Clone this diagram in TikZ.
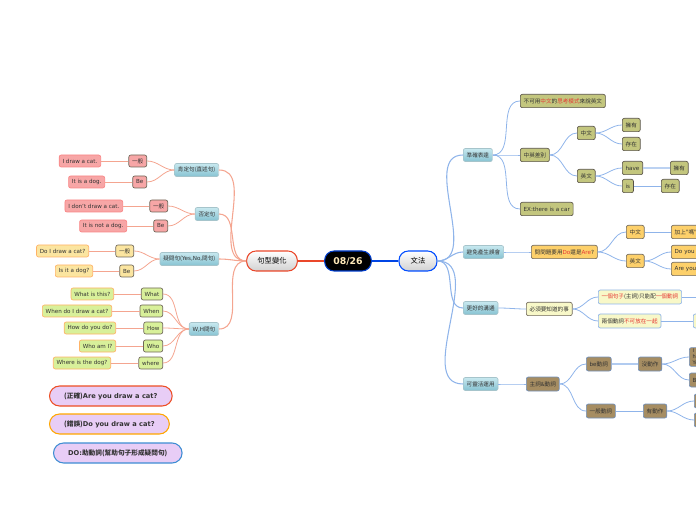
\documentclass[tikz,border=0pt]{standalone}
\usepackage{fontspec}
\setmainfont{DejaVu Sans}
\newfontfamily\cjk{Noto Sans CJK TC}
\newcommand{\zh}[1]{{\cjk #1}}
\newcommand{\hl}[1]{\textcolor{hlred}{#1}}

\definecolor{hlred}{HTML}{E53935}
\definecolor{lline}{HTML}{F4A590}
\definecolor{rline}{HTML}{8FB4EA}
\definecolor{tealtop}{HTML}{C8E8EF}
\definecolor{tealbot}{HTML}{86C3D2}
\definecolor{pinkfill}{HTML}{F7A6A6}
\definecolor{yelfill}{HTML}{FBE5A0}
\definecolor{grnfill}{HTML}{D8F09A}
\definecolor{olivefill}{HTML}{C3C67E}
\definecolor{orangefill}{HTML}{FDD06A}
\definecolor{creamfill}{HTML}{F8F8C8}
\definecolor{brownfill}{HTML}{A68D62}
\definecolor{notefill}{HTML}{E8CDF6}
\definecolor{darkedge}{HTML}{6E6658}

\tikzset{
  box/.style={rounded corners=1.5pt, inner xsep=2.5pt, inner ysep=0pt,
    minimum height=9pt, line width=0.5pt, text=black!80,
    font=\fontsize{4.2}{5}\selectfont},
  topic/.style={box, top color=tealtop, bottom color=tealbot, draw=tealbot!80!black!60,
    minimum height=9.75pt},
  pinkkey/.style={box, fill=pinkfill, draw=darkedge},
  pinksent/.style={box, fill=pinkfill, draw=pinkfill!80!red},
  yelkey/.style={box, fill=yelfill, draw=darkedge},
  yelsent/.style={box, fill=yelfill, draw=orange!60},
  grnkey/.style={box, fill=grnfill, draw=darkedge},
  grnsent/.style={box, fill=grnfill, draw=orange!60},
  olive/.style={box, fill=olivefill, draw=darkedge!80!black, minimum height=10pt},
  orangebox/.style={box, fill=orangefill, draw=darkedge, minimum height=10pt},
  cream/.style={box, fill=creamfill, draw=darkedge, minimum height=10pt},
  creamblue/.style={box, fill=creamfill, draw=rline, minimum height=10.5pt},
  brown/.style={box, fill=brownfill, draw=rline!80!black, minimum height=10.5pt},
  mainbox/.style={rounded corners=7pt, minimum height=15pt, line width=0.8pt,
    top color=white, bottom color=black!18, font=\cjk\fontsize{5.5}{6}\selectfont},
  note/.style={rounded corners=7.5pt, minimum height=15pt, fill=notefill, line width=0.8pt,
    inner xsep=11pt, text=black!80, font=\bfseries\fontsize{5}{6}\selectfont},
  ll/.style={draw=lline, line width=0.6pt},
  rl/.style={draw=rline, line width=0.6pt},
}

\begin{document}
\begin{tikzpicture}[x=0.75pt, y=-0.75pt]
  \useasboundingbox (0,0) rectangle (696,520);

  % Centro
  \node[rounded corners=7pt, minimum width=35pt, minimum height=15pt, fill=black,
    draw=blue!70!cyan!80!black, line width=0.8pt, text=yellow!40!orange!25,
    font=\bfseries\fontsize{7}{8}\selectfont] (root) at (348,261) {08/26};
  \node[mainbox, draw=hlred!80!orange, minimum width=38pt] (forms) at (272,261) {句型變化};
  \node[mainbox, draw=blue!70!cyan, minimum width=28.5pt] (gram) at (418,261) {文法};
  \draw[draw=hlred!80!orange, line width=1.2pt] (root) -- (forms);
  \draw[draw=blue!70!cyan!90!black, line width=1.2pt] (root) -- (gram);

  % Lado izquierdo: temas
  \node[topic, anchor=east] (pos) at (219,170) {\zh{肯定句(直述句)}};
  \node[topic, anchor=east] (neg) at (219,214) {\zh{否定句}};
  \node[topic, anchor=east] (ques) at (219,259) {\zh{疑問句(}Yes,No,\zh{問句)}};
  \node[topic, anchor=east] (wh) at (219,329) {W,H\zh{問句}};
  \foreach \t in {pos,neg,ques,wh}
    \draw[ll, line width=0.8pt] (forms.west) to[out=180,in=0] (\t.east);

  % Afirmativas
  \node[pinkkey, anchor=east] (pos1) at (147,161) {\zh{一般}};
  \node[pinkkey, anchor=east] (pos2) at (147,182) {Be};
  \node[pinksent, anchor=east] (posa) at (101,161) {I draw a cat.};
  \node[pinksent, anchor=east] (posb) at (105,182) {It is a dog.};

  % Negativas
  \node[pinkkey, anchor=east] (neg1) at (168,206) {\zh{一般}};
  \node[pinkkey, anchor=east] (neg2) at (168,226) {Be};
  \node[pinksent, anchor=east] (nega) at (123,206) {I don't draw a cat.};
  \node[pinksent, anchor=east] (negb) at (127,226) {It is not a dog.};

  % Preguntas
  \node[yelkey, anchor=east] (ques1) at (134,251) {\zh{一般}};
  \node[yelkey, anchor=east] (ques2) at (134,271) {Be};
  \node[yelsent, anchor=east] (quesa) at (89,251) {Do I draw a cat?};
  \node[yelsent, anchor=east] (quesb) at (93,271) {Is it a dog?};

  \foreach \t in {pos,neg,ques}{
    \draw[ll] (\t.west) to[out=180,in=0] (\t1.east);
    \draw[ll] (\t.west) to[out=180,in=0] (\t2.east);
    \draw[ll] (\t1.west) -- (\t a.east);
    \draw[ll] (\t2.west) -- (\t b.east);
  }

  % W,H
  \foreach \n/\k/\s/\y/\e in {1/What/What is this?/294/114,
      2/When/When do I draw a cat?/311/112,
      3/How/How do you do?/328/116,
      4/Who/Who am I?/346/116,
      5/where/Where is the dog?/363/111}{
    \node[grnkey, anchor=east] (whk\n) at (163,\y) {\k};
    \node[grnsent, anchor=east] (whs\n) at (\e,\y) {\s};
    \draw[ll] (wh.west) to[out=180,in=0] (whk\n.east);
    \draw[ll] (whk\n.west) -- (whs\n.east);
  }

  % Notas
  \node[note, draw=hlred!70!orange, anchor=west] (note1) at (49,396) {\zh{(正確)}Are you draw a cat?};
  \node[note, draw=orange!70!yellow, anchor=west] (note2) at (49,424) {\zh{(錯誤)}Do you draw a cat?};
  \node[note, draw=cyan!60!blue!80, anchor=west] (note3) at (53,453) {DO:\zh{助動詞(幫助句子形成疑問句)}};

  % Lado derecho: temas
  \node[topic, anchor=west, font=\cjk\fontsize{4.2}{5}\selectfont] (exact) at (463,155) {準確表達};
  \node[topic, anchor=west, font=\cjk\fontsize{4.2}{5}\selectfont] (avoid) at (463,252) {避免產生誤會};
  \node[topic, anchor=west, font=\cjk\fontsize{4.2}{5}\selectfont] (comm) at (463,308) {更好的溝通};
  \node[topic, anchor=west, font=\cjk\fontsize{4.2}{5}\selectfont] (flex) at (463,384) {可靈活運用};
  \foreach \t in {exact,avoid,comm,flex}
    \draw[rl, line width=0.8pt] (gram.east) to[out=0,in=180] (\t.west);

  % Precisión
  \node[olive, anchor=west] (think) at (520,101) {\zh{不可用\hl{中文}的\hl{思考模式}來說英文}};
  \node[olive, anchor=west] (diff) at (520,155) {\zh{中英差別}};
  \node[olive, anchor=west] (ex) at (520,209) {EX:there is a car};
  \node[olive, anchor=west] (diffzh) at (577,133) {\zh{中文}};
  \node[olive, anchor=west] (diffen) at (577,176) {\zh{英文}};
  \node[olive, anchor=west] (zhown) at (622,125) {\zh{擁有}};
  \node[olive, anchor=west] (zhexist) at (622,144) {\zh{存在}};
  \node[olive, anchor=west] (enhave) at (622,168) {have};
  \node[olive, anchor=west] (enis) at (622,186) {is};
  \node[olive, anchor=west] (haveown) at (670,168) {\zh{擁有}};
  \node[olive, anchor=west] (isexist) at (661,186) {\zh{存在}};
  \foreach \a/\b in {exact/think,exact/diff,exact/ex,diff/diffzh,diff/diffen,
      diffzh/zhown,diffzh/zhexist,diffen/enhave,diffen/enis}
    \draw[rl] (\a.east) to[out=0,in=180] (\b.west);
  \draw[rl, line width=1.2pt, draw=rline!60] (enhave) -- (haveown);
  \draw[rl] (enis) -- (isexist);

  % Evitar malentendidos
  \node[orangebox, anchor=west] (doare) at (531,252) {\zh{問問題要用}\hl{Do}\zh{還是}\hl{Are}?};
  \node[orangebox, anchor=west] (qzh) at (626,232) {\zh{中文}};
  \node[orangebox, anchor=west] (qen) at (626,261) {\zh{英文}};
  \node[orangebox, anchor=west, text width=40pt, align=left] (qma) at (671,232) {\zh{加上"嗎"}};
  \node[orangebox, anchor=west, text width=40pt, align=left] (qdo) at (671,252) {Do you};
  \node[orangebox, anchor=west, text width=40pt, align=left] (qare) at (671,269) {Are you};
  \foreach \a/\b in {avoid/doare,doare/qzh,doare/qen,qen/qdo,qen/qare}
    \draw[rl] (\a.east) to[out=0,in=180] (\b.west);
  \draw[rl] (qzh) -- (qma);

  % Comunicación
  \node[cream, anchor=west] (must) at (526,309) {\zh{必須要知道的事}};
  \node[creamblue, anchor=west] (onev) at (598,297) {\zh{\hl{一個句子}(主詞)只能配\hl{一個動詞}}};
  \node[creamblue, anchor=west] (twov) at (598,321) {\zh{兩個動詞\hl{不可放在一起}}};
  \node[creamblue, anchor=west, minimum width=40pt] (twovnext) at (693,321) {};
  \coordinate (onevend) at (700,297);
  \foreach \a/\b in {comm/must,must/onev,must/twov}
    \draw[rl] (\a.east) to[out=0,in=180] (\b.west);
  \draw[rl] (onev.east) -- (onevend);
  \draw[rl] (twov) -- (twovnext);

  % Uso flexible
  \node[brown, anchor=west] (subj) at (526,384) {\zh{主詞\&動詞}};
  \node[brown, anchor=west] (bev) at (586,364) {be\zh{動詞}};
  \node[brown, anchor=west] (genv) at (586,411) {\zh{一般動詞}};
  \node[brown, anchor=west] (noact) at (638,364) {\zh{沒動作}};
  \node[brown, anchor=west] (act) at (643,411) {\zh{有動作}};
  \node[brown, anchor=west, text width=40pt, align=left, inner ysep=1pt,
    font=\fontsize{3.8}{4.6}\selectfont] (bea) at (689,357) {I am\\he is\\You are};
  \node[brown, anchor=west, text width=40pt, align=left] (beb) at (689,380) {Be};
  \node[brown, anchor=west, minimum width=40pt] (acta) at (694,401) {};
  \node[brown, anchor=west, minimum width=40pt] (actb) at (694,420) {};
  \foreach \a/\b in {flex/subj,subj/bev,subj/genv,noact/bea,noact/beb,act/acta,act/actb}
    \draw[rl] (\a.east) to[out=0,in=180] (\b.west);
  \draw[rl, line width=1pt, draw=rline!70] (bev) -- (noact);
  \draw[rl] (genv) -- (act);
\end{tikzpicture}
\end{document}
